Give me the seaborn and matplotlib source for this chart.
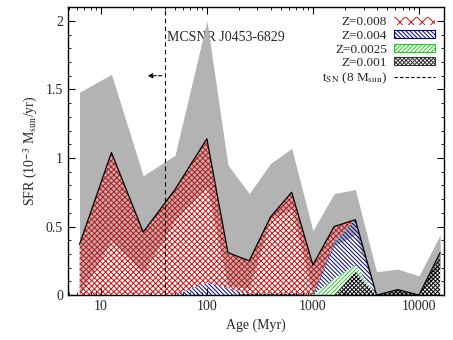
import numpy as np
import matplotlib
matplotlib.use("Agg")
import matplotlib.pyplot as plt
from matplotlib.patches import Patch
from matplotlib.lines import Line2D
from matplotlib.ticker import FuncFormatter, MultipleLocator
import seaborn as sns

# age bins (Myr)
age = [6.3, 12.6, 25.1, 50.1, 100, 158, 251, 398, 631, 1000, 1585, 2512, 3981, 6310, 10000, 15849]

# stacked SFR per metallicity (10^-3 Msun/yr)
z001 = [0, 0, 0, 0, 0, 0, 0.01, 0.01, 0.01, 0, 0, 0.17, 0, 0.04, 0, 0.29]
z0025 = [0, 0, 0, 0, 0, 0, 0, 0, 0, 0, 0.12, 0.05, 0, 0, 0, 0.02]
z004 = [0, 0, 0, 0, 0.09, 0.05, 0, 0, 0, 0, 0.26, 0.33, 0, 0, 0, 0]
z008 = [0.37, 1.04, 0.46, 0.77, 1.05, 0.26, 0.24, 0.56, 0.74, 0.22, 0.12, 0, 0, 0, 0, 0]

# error band on total SFR
sfr_lo = [0.0, 0.40, 0.16, 0.55, 0.79, 0.07, 0.05, 0.55, 0.63, 0.0, 0.36, 0.44, 0, 0, 0, 0.2]
sfr_hi = [1.48, 1.61, 0.87, 1.02, 2.0, 0.95, 0.74, 0.96, 1.07, 0.47, 0.74, 0.77, 0.17, 0.19, 0.14, 0.44]

t_sn = 40  # Myr, lifetime of 8 Msun star
snr_name = "MCSNR J0453-6829"

sns.set_theme(style="ticks")
plt.rcParams['font.family'] = ['Liberation Serif', 'DejaVu Serif']
plt.rcParams['mathtext.fontset'] = 'stix'
plt.rcParams['hatch.linewidth'] = 0.7

RED, BLUE, GREEN = '#cc1111', '#000080', '#22cc22'
H_RED, H_BLUE, H_GREEN, H_BLACK = 'x' * 6, '\\' * 8, '/' * 8, 'x' * 8

fig = plt.figure(figsize=(4.53, 3.4), dpi=100)
ax = fig.add_axes([0.150, 0.132, 0.830, 0.847])

# error band
ax.fill_between(age, sfr_lo, sfr_hi, color='#b3b3b3', lw=0, zorder=2)

# stacked hatched areas
b0 = np.zeros(len(age))
b1 = b0 + np.array(z001)
b2 = b1 + np.array(z0025)
b3 = b2 + np.array(z004)
b4 = b3 + np.array(z008)
ax.fill_between(age, b0, b1, facecolor='none', edgecolor='black', hatch=H_BLACK, lw=0, zorder=3)
ax.fill_between(age, b1, b2, facecolor='none', edgecolor=GREEN, hatch=H_GREEN, lw=0, zorder=3)
ax.fill_between(age, b2, b3, facecolor='none', edgecolor=BLUE, hatch=H_BLUE, lw=0, zorder=3)
ax.fill_between(age, b3, b4, facecolor='none', edgecolor=RED, hatch=H_RED, lw=0, zorder=3)

sns.lineplot(x=age, y=b4, color='black', lw=0.9, ax=ax, zorder=4)

# SN progenitor lifetime
ax.axvline(t_sn, color='black', ls=(0, (4, 3)), lw=0.8, zorder=5)
ax.annotate('', xy=(26, 1.6), xytext=(t_sn, 1.6),
            arrowprops=dict(arrowstyle='-|>', color='black', lw=0.8,
                            linestyle=(0, (3, 2)), mutation_scale=7), zorder=5)
ax.text(42, 1.88, snr_name, fontsize=10, ha='left', va='center', zorder=1)

ax.set_xscale('log')
ax.set_xlim(4.9, 17200)
ax.set_ylim(0, 2.1)
ax.yaxis.set_major_locator(MultipleLocator(0.5))
ax.yaxis.set_minor_locator(MultipleLocator(0.1))
ax.yaxis.set_major_formatter(FuncFormatter(lambda v, p: f"{v:g}"))
ax.xaxis.set_major_formatter(FuncFormatter(lambda v, p: f"{v:g}"))
ax.tick_params(which='both', direction='in', top=True, right=True, labelsize=10, color='black')
ax.tick_params(which='major', length=5, width=0.8)
ax.tick_params(which='minor', length=2.5, width=0.6)
for s in ax.spines.values():
    s.set_linewidth(1.0)
    s.set_color('black')

ax.set_xlabel('Age (Myr)', fontsize=10)
ax.set_ylabel(r'SFR (10$^{-3}$ M$_{\mathrm{sun}}$/yr)', fontsize=10)

handles = [
    Patch(facecolor='white', edgecolor=RED, hatch='xxx', lw=0),
    Patch(facecolor='white', edgecolor=BLUE, hatch=H_BLUE, lw=0.8),
    Patch(facecolor='white', edgecolor=GREEN, hatch=H_GREEN, lw=0.8),
    Patch(facecolor='white', edgecolor='#333333', hatch=H_BLACK, lw=0.8),
    Line2D([], [], color='black', ls=(0, (3, 2)), lw=0.8),
]
labels = ['Z=0.008', 'Z=0.004', 'Z=0.0025', 'Z=0.001', r't$_{\mathrm{SN}}$ (8 M$_{\mathrm{sun}}$)']
ax.legend(handles, labels, loc='upper right', markerfirst=False, frameon=False,
          fontsize=9.5, handlelength=3.1, handleheight=0.55, handletextpad=0.5,
          labelspacing=0.12, borderaxespad=0.3)

fig.savefig('out.png', dpi=100)
